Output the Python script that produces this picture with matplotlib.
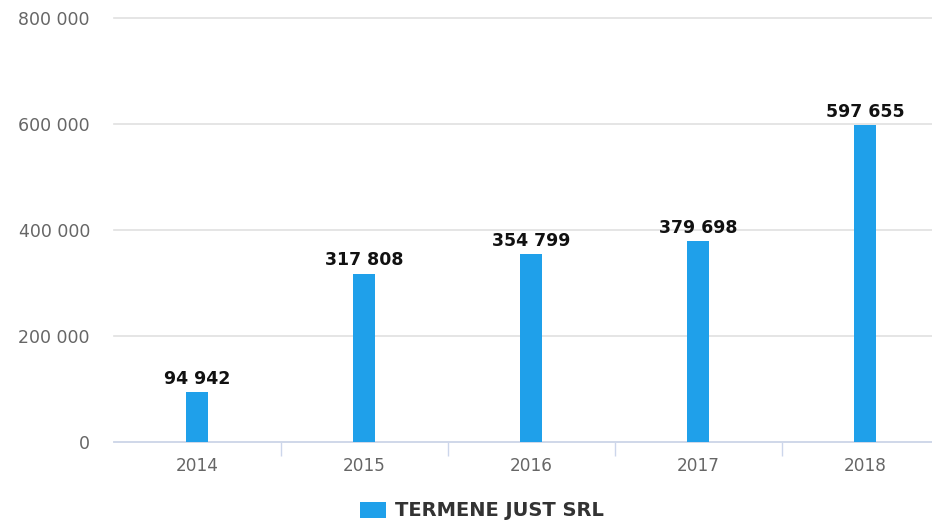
import numpy as np
import matplotlib
matplotlib.use("Agg")
from matplotlib import pyplot as plt
from matplotlib.patches import Patch

plt.rcParams["font.family"] = ["DejaVu Sans"]

# data
years = ["2014", "2015", "2016", "2017", "2018"]
values = [94942, 317808, 354799, 379698, 597655]
series_name = "TERMENE JUST SRL"
y_ticks = [0, 200000, 400000, 600000, 800000]


def fmt_space(v):
    return f"{int(v):,}".replace(",", " ")


bar_color = "#1fa0ea"

fig = plt.figure(figsize=(9.32, 5.22), dpi=100)
# plot area runs a little past the right edge of the image
ax = fig.add_axes([113.5 / 932, 1 - 442 / 522, 835 / 932, 424 / 522])

x = np.arange(len(years))
ax.bar(x, values, width=22 / 167, color=bar_color, zorder=3)

# value labels above bars
for xi, v in zip(x, values):
    ax.annotate(fmt_space(v), (xi, v), xytext=(0, 3), textcoords="offset points",
                ha="center", va="bottom", fontsize=12.5, fontweight="bold",
                color="#111111")

ax.set_xlim(-0.5, len(years) - 0.5)
ax.set_ylim(0, 800000)

# horizontal grid
ax.set_yticks(y_ticks)
ax.set_yticklabels([fmt_space(t) for t in y_ticks])
ax.yaxis.grid(True, color="#e0e0e0", linewidth=1.2, zorder=0)
for gl in ax.get_ygridlines():
    gl.set_clip_on(False)
ax.tick_params(axis="y", length=0, pad=17, labelsize=12.5, labelcolor="#666666")

# category labels and separator ticks
ax.set_xticks(x)
ax.set_xticklabels(years)
ax.tick_params(axis="x", which="major", length=0, pad=11, labelsize=12.2,
               labelcolor="#666666")
ax.set_xticks(np.arange(0.5, len(years) - 1, 1), minor=True)
ax.tick_params(axis="x", which="minor", length=10, width=1, color="#ccd6eb")

for side in ["top", "right", "left"]:
    ax.spines[side].set_visible(False)
ax.spines["bottom"].set_color("#ccd6eb")
ax.spines["bottom"].set_linewidth(1.2)

handle = Patch(facecolor=bar_color, edgecolor="none")
leg = fig.legend([handle], [series_name], loc="center", bbox_to_anchor=(481.5 / 932, 1 - 511 / 522),
                 frameon=False, handlelength=1.34, handleheight=0.88, handletextpad=0.46,
                 prop={"weight": "bold", "size": 14})
for t in leg.get_texts():
    t.set_color("#333333")

fig.savefig("out.png", dpi=100)
